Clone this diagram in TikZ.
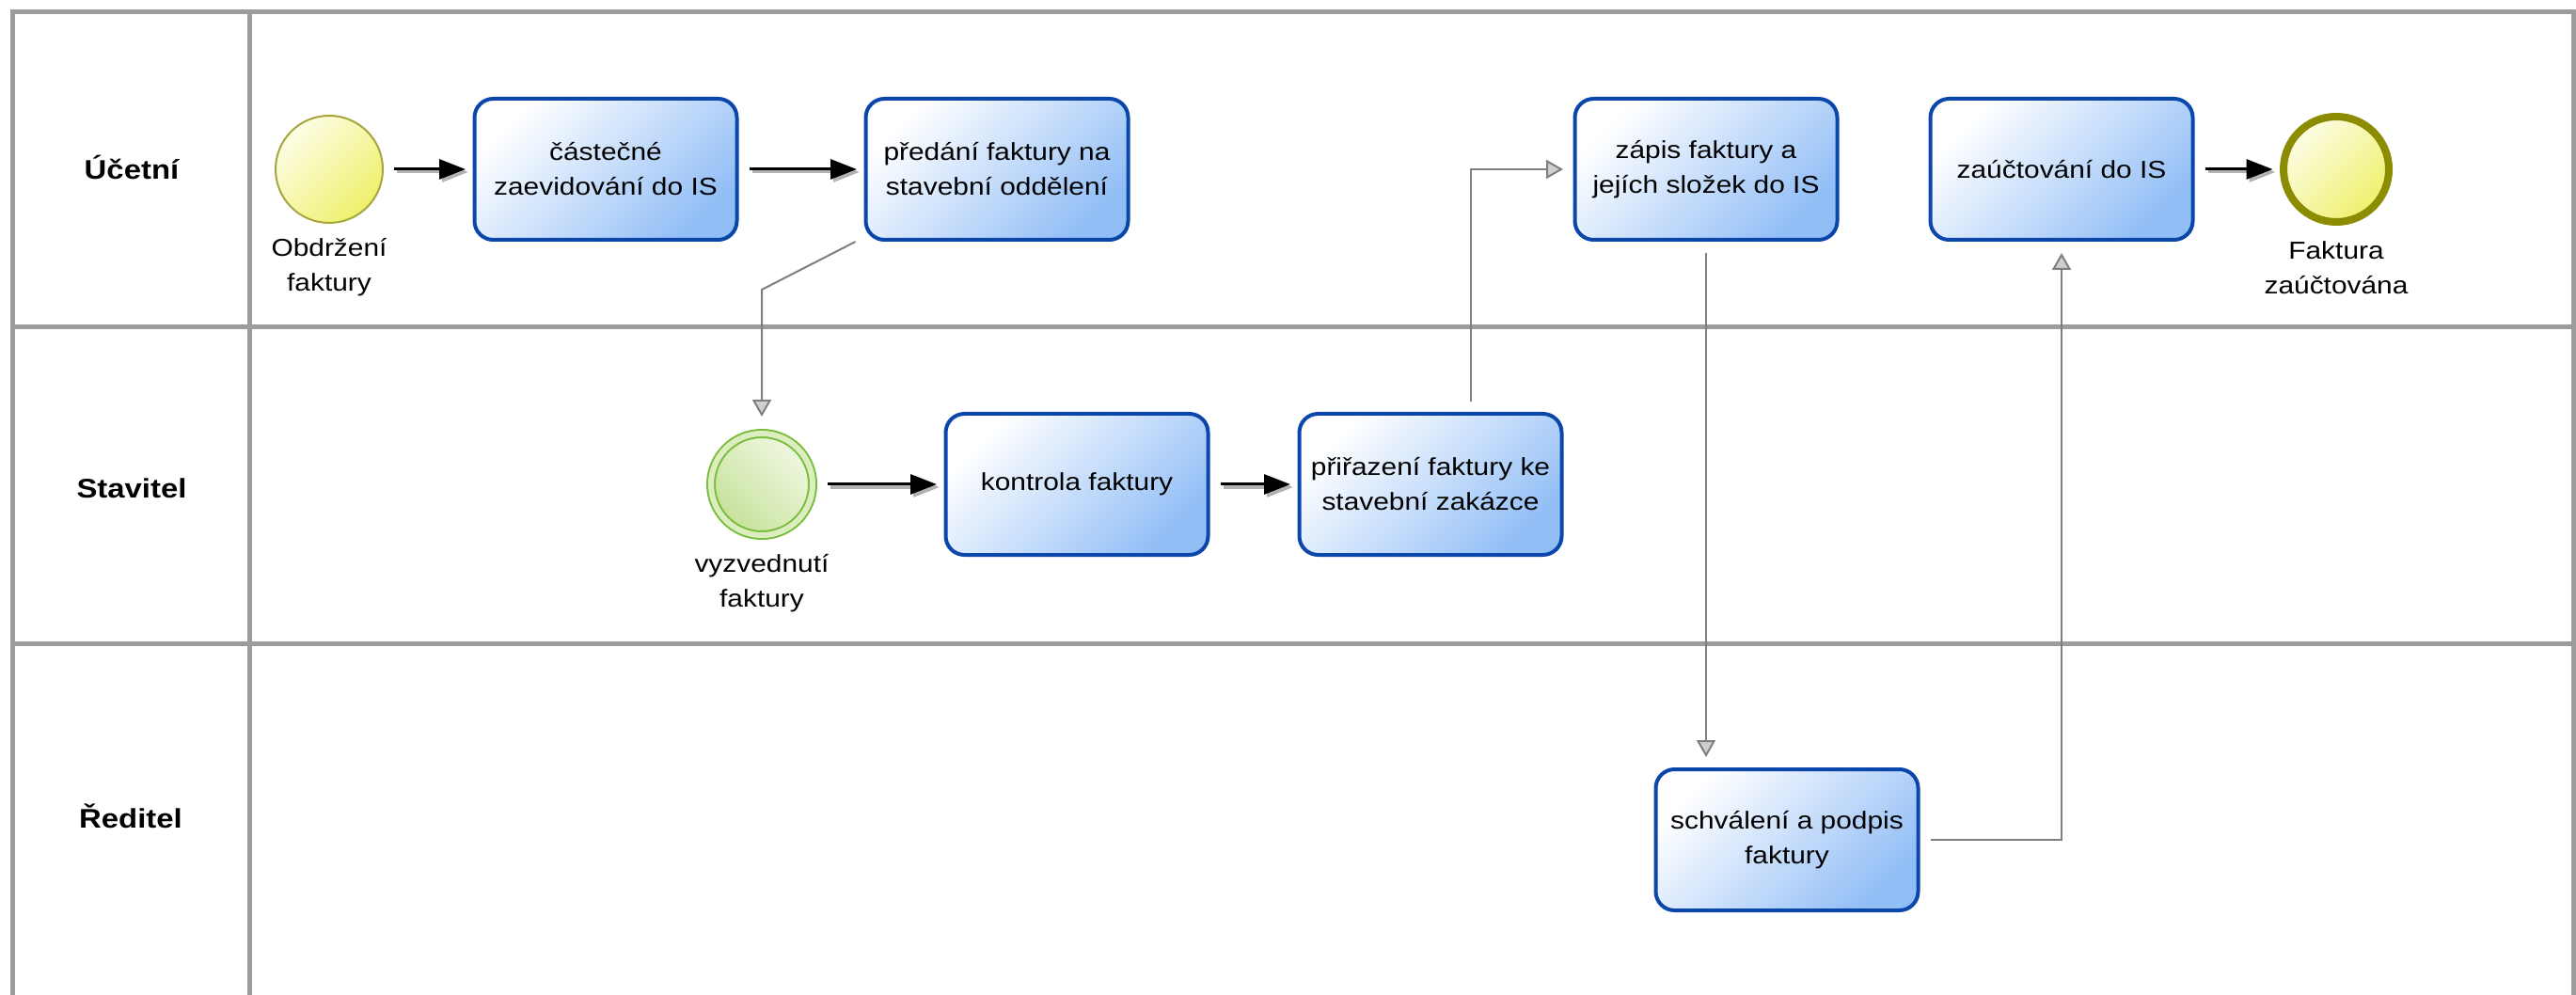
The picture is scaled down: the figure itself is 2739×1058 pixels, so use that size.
\documentclass[tikz,border=0pt]{standalone}
\usepackage{fontspec}
\setmainfont{Liberation Sans}[FakeStretch=1.15]
\usetikzlibrary{arrows.meta,calc}

\definecolor{laneGray}{HTML}{9C9C9C}
\definecolor{taskBorder}{HTML}{0B47AA}
\definecolor{taskDark}{HTML}{92BEF6}
\definecolor{startBorder}{HTML}{A6A63C}
\definecolor{endBorder}{HTML}{8C8C00}
\definecolor{yellowLight}{HTML}{FDFDE6}
\definecolor{yellowDark}{HTML}{EEF06C}
\definecolor{greenLine}{HTML}{78BE3C}
\definecolor{greenRing}{HTML}{DCEEBF}
\definecolor{greenLight}{HTML}{F0F8E2}
\definecolor{greenDark}{HTML}{C6E199}
\definecolor{flowGray}{HTML}{7F7F7F}
\definecolor{flowHead}{HTML}{CFCFCF}

\begin{document}
\begin{tikzpicture}[x=0.5pt, y=-0.5pt,
  lane/.style={draw=laneGray, line width=2.5pt, line join=miter},
  lanelabel/.style={font=\bfseries\fontsize{14.3}{17}\selectfont},
  task/.style={rectangle, rounded corners=10pt, draw=taskBorder, line width=2pt,
    minimum width=139.5pt, minimum height=75pt, inner sep=2pt,
    top color=white, bottom color=taskDark, shading angle=45,
    align=center, font=\fontsize{13}{18.5}\selectfont},
  startev/.style={circle, minimum size=57pt, inner sep=0pt, draw=startBorder,
    line width=1pt, top color=yellowLight, bottom color=yellowDark, shading angle=45},
  endev/.style={circle, minimum size=56pt, inner sep=0pt, draw=endBorder,
    line width=4pt, top color=yellowLight, bottom color=yellowDark, shading angle=45},
  midev/.style={circle, minimum size=54pt, inner sep=0pt, outer sep=2.5pt,
    draw=greenLine, line width=1pt, double=greenRing, double distance=3pt,
    top color=greenLight, bottom color=greenDark, shading angle=-45},
  evlabel/.style={align=center, font=\fontsize{13}{18.5}\selectfont},
  seq/.style={draw=black, line width=1.5pt, -{Triangle[length=14pt, width=10.5pt]},
    shorten <=5.5pt, shorten >=3.75pt},
  seqshadow/.style={seq, draw=black!30, transform canvas={shift={(1.5pt,-1.5pt)}}},
  flow/.style={draw=flowGray, line width=1pt,
    -{Triangle[length=9pt, width=10pt, fill=flowHead]}}
]
\useasboundingbox (0,0) rectangle (2739,1058);
\fill[white] (0,0) rectangle (2739,1058);

% pool frame and lanes
\draw[lane] (13,1062) -- (13,13) -- (2736,13) -- (2736,1062);
\draw[lane] (265,13) -- (265,1062);
\draw[lane] (13,348) -- (2736,348);
\draw[lane] (13,684) -- (2736,684);

\node[lanelabel] (l1) at (140,178) {Účetní};
\node[lanelabel] (l2) at (140,519) {Stavitel};
\node[lanelabel] (l3) at (139,868) {Ředitel};

% lane 1
\node[startev] (ev1) at (350,180) {};
\node[evlabel] (ev1l) at (350,284) {Obdržení\\faktury};
\node[task] (t1) at (644,180) {částečné\\zaevidování do IS};
\node[task] (t2) at (1060,180) {předání faktury na\\stavební oddělení};
\node[task] (t3) at (1814,180) {zápis faktury a\\jejích složek do IS};
\node[task] (t6) at (2192,180) {zaúčtování do IS};
\node[endev] (ev3) at (2484,180) {};
\node[evlabel] (ev3l) at (2484,285) {Faktura\\zaúčtována};

% lane 2
\node[midev] (ev2) at (810,515) {};
\node[evlabel] (ev2l) at (810,620) {vyzvednutí\\faktury};
\node[task] (tk) at (1145,515) {kontrola faktury};
\node[task] (t4) at (1521,515) {přiřazení faktury ke\\stavební zakázce};

% lane 3
\node[task] (t5) at (1900,893) {schválení a podpis\\faktury};

% sequence flows
\draw[seqshadow] (ev1) -- (t1);
\draw[seq] (ev1) -- (t1);
\draw[seqshadow] (t1) -- (t2);
\draw[seq] (t1) -- (t2);
\draw[seqshadow] (ev2) -- (tk);
\draw[seq] (ev2) -- (tk);
\draw[seqshadow] (tk) -- (t4);
\draw[seq] (tk) -- (t4);
\draw[seqshadow] (t6) -- (ev3);
\draw[seq] (t6) -- (ev3);

% flows crossing lanes
\coordinate (b1) at (810,308);
\draw[flow, shorten >=6.5pt] ([shift={(-9,0)}]t2.south west) -- (b1) -- (ev2);
\draw[flow, shorten <=5.5pt, shorten >=5.25pt] ([xshift=21.5pt]t4.north) |- (t3.west);
\draw[flow, shorten <=6pt, shorten >=5.5pt] (t3.south) -- (t3.south |- t5.north);
\draw[flow, shorten <=5.5pt, shorten >=6pt] (t5.east) -| (t6.south);
\end{tikzpicture}
\end{document}
